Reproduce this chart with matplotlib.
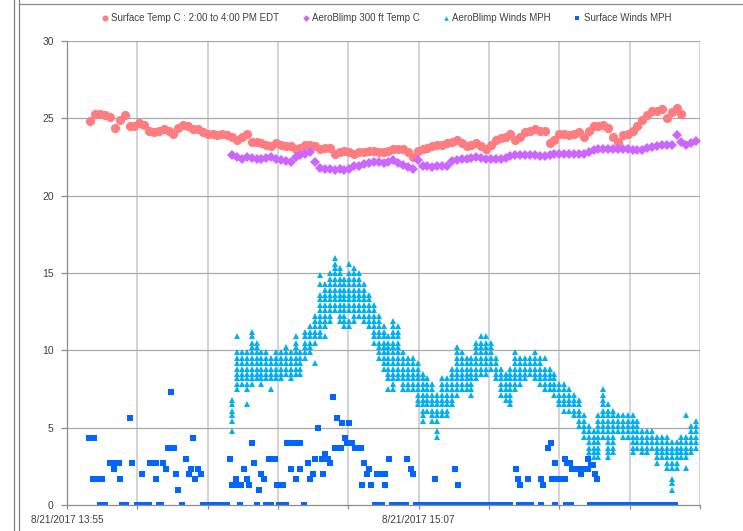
import matplotlib
matplotlib.use("Agg")
import matplotlib.pyplot as plt
from matplotlib.lines import Line2D
import numpy as np

# ---------------- data (time = minutes after 14:00 EDT, 8/21/2017) ----------------
series_labels = ["Surface Temp C : 2:00 to 4:00 PM EDT", "AeroBlimp 300 ft Temp C",
                 "AeroBlimp Winds MPH", "Surface Winds MPH"]

surface_temp_start = 0
surface_temp = [24.8, 25.3, 25.3, 25.2, 25.1, 24.4, 24.9, 25.2, 24.5, 24.5,
                24.7, 24.6, 24.2, 24.1, 24.2, 24.3, 24.2, 24.0, 24.4, 24.6,
                24.5, 24.3, 24.3, 24.1, 24.0, 24.0, 23.9, 24.0, 23.9, 23.8,
                23.6, 23.8, 24.0, 23.5, 23.5, 23.4, 23.3, 23.2, 23.4, 23.3,
                23.2, 23.2, 23.0, 23.1, 23.3, 23.3, 23.2, 23.0, 23.1, 23.1,
                22.7, 22.8, 22.9, 22.8, 22.7, 22.8, 22.85, 22.9, 22.9, 22.8,
                22.8, 22.9, 23.0, 23.0, 23.0, 22.8, 22.5, 22.9, 23.0, 23.1,
                23.2, 23.3, 23.3, 23.4, 23.5, 23.6, 23.4, 23.2, 23.3, 23.4,
                23.2, 23.0, 23.3, 23.6, 23.7, 23.8, 24.0, 23.6, 23.8, 24.1,
                24.2, 24.3, 24.2, 24.2, 23.4, 23.6, 24.0, 24.0, 23.95, 24.0,
                24.1, 23.8, 24.2, 24.5, 24.5, 24.6, 24.4, 23.8, 23.5, 23.9,
                24.0, 24.2, 24.5, 24.9, 25.2, 25.5, 25.5, 25.6, 25.0, 25.4,
                25.7, 25.3]

blimp_temp_start = 29
blimp_temp = [22.6, 22.5, 22.4, 22.5, 22.45, 22.35, 22.4, 22.45, 22.5, 22.35,
              22.3, 22.25, 22.2, 22.5, 22.6, 22.7, 22.8, 22.2, 21.8, 21.7,
              21.7, 21.65, 21.7, 21.65, 21.75, 21.9, 21.95, 22.05, 22.1, 22.2,
              22.15, 22.1, 22.2, 22.3, 22.1, 22.0, 21.85, 21.75, 22.3, 21.9,
              21.9, 21.85, 21.9, 21.9, 21.9, 22.25, 22.3, 22.4, 22.4, 22.45,
              22.5, 22.45, 22.4, 22.4, 22.4, 22.4, 22.45, 22.55, 22.6, 22.6,
              22.6, 22.6, 22.6, 22.55, 22.55, 22.65, 22.7, 22.7, 22.7, 22.7,
              22.7, 22.7, 22.7, 22.8, 22.95, 23.0, 23.0, 23.0, 23.0, 23.0,
              23.0, 23.0, 22.95, 22.95, 22.95, 23.05, 23.15, 23.2, 23.25, 23.3,
              23.3, 23.9, 23.5, 23.3, 23.4, 23.55]

blimp_wind_start = 29
blimp_wind = [
    [4.8, 5.4, 5.8, 6.1, 6.5, 6.8],
    [7.5, 7.8, 8.2, 8.5, 8.8, 9.2, 9.5, 9.9, 10.9],
    [7.8, 8.2, 8.5, 8.8, 9.2, 9.5, 9.9],
    [6.5, 7.5, 7.8, 8.2, 8.5, 8.8, 9.2, 9.5, 9.9],
    [7.8, 8.2, 8.5, 8.8, 9.2, 9.5, 9.9, 10.2, 10.5, 10.9, 11.2],
    [8.2, 8.5, 8.8, 9.2, 9.5, 9.9, 10.2, 10.5],
    [7.8, 8.2, 8.5, 8.8, 9.2, 9.5, 9.9],
    [8.2, 8.5, 8.8, 9.2, 9.5, 9.9],
    [7.5, 8.2, 8.5, 8.8, 9.2, 9.5],
    [8.2, 8.5, 8.8, 9.2, 9.5, 9.9],
    [8.2, 8.5, 8.8, 9.2, 9.5, 9.9],
    [8.5, 8.8, 9.2, 9.5, 9.9, 10.2],
    [8.2, 8.5, 8.8, 9.2, 9.5, 9.9],
    [8.5, 8.8, 9.2, 9.5, 9.9, 10.2, 10.5, 10.9],
    [8.5, 8.8, 9.2, 9.5, 9.9],
    [9.5, 9.9, 10.2, 10.5, 10.9, 11.2],
    [9.9, 10.2, 10.5, 10.9, 11.2, 11.6],
    [9.2, 10.5, 10.9, 11.2, 11.6, 11.9, 12.2],
    [10.9, 11.2, 11.6, 11.9, 12.2, 12.6, 12.9, 13.3, 13.6, 14.3, 14.9],
    [10.9, 11.6, 11.9, 12.2, 12.6, 12.9, 13.3, 13.6, 13.9, 14.3],
    [11.9, 12.2, 12.6, 12.9, 13.3, 13.6, 13.9, 14.3, 14.6, 15.0],
    [12.6, 12.9, 13.3, 13.6, 13.9, 14.3, 14.6, 15.0, 15.3, 15.6, 16.0],
    [11.9, 12.2, 12.6, 12.9, 13.3, 13.6, 13.9, 14.3, 14.6, 15.0, 15.3],
    [11.6, 11.9, 12.2, 12.6, 12.9, 13.3, 13.6, 13.9, 14.3, 14.6],
    [11.6, 11.9, 12.6, 12.9, 13.3, 13.6, 13.9, 14.3, 14.6, 15.0, 15.6],
    [11.9, 12.2, 12.6, 12.9, 13.3, 13.6, 13.9, 14.3, 14.6, 15.0, 15.3],
    [12.2, 12.6, 12.9, 13.3, 13.6, 13.9, 14.3, 14.6, 15.0],
    [11.9, 12.2, 12.6, 12.9, 13.3, 13.6, 13.9, 14.3],
    [11.6, 11.9, 12.2, 12.6, 12.9, 13.3, 13.6],
    [10.5, 10.9, 11.2, 11.6, 11.9, 12.2, 12.6, 12.9],
    [9.5, 9.9, 10.2, 10.5, 10.9, 11.2, 11.6, 11.9, 12.2],
    [8.8, 9.2, 9.5, 9.9, 10.2, 10.5, 10.9, 11.2, 11.6],
    [7.5, 8.2, 8.5, 8.8, 9.2, 9.5, 9.9, 10.2, 10.5, 10.9],
    [7.5, 7.8, 8.2, 8.5, 8.8, 9.2, 9.5, 9.9, 10.2, 10.5, 10.9, 11.2, 11.6, 11.9],
    [8.2, 8.5, 8.8, 9.2, 9.5, 9.9, 10.2, 10.5, 10.9, 11.2, 11.6],
    [7.5, 7.8, 8.2, 8.5, 8.8, 9.2, 9.5, 9.9],
    [7.5, 7.8, 8.2, 8.5, 8.8, 9.2, 9.5],
    [7.5, 7.8, 8.2, 8.5, 8.8, 9.2, 9.5],
    [6.5, 6.8, 7.1, 7.5, 7.8, 8.2, 8.5, 8.8, 9.2],
    [5.4, 5.8, 6.1, 6.5, 6.8, 7.1, 7.5, 7.8, 8.2, 8.5],
    [6.1, 6.5, 6.8, 7.1, 7.5, 7.8, 8.2],
    [5.4, 5.8, 6.1, 6.5, 6.8, 7.1, 7.5, 7.8],
    [4.4, 4.8, 5.4, 5.8, 6.1, 6.5, 6.8, 7.1],
    [5.8, 6.1, 6.5, 6.8, 7.1, 7.5, 7.8, 8.2],
    [5.8, 6.1, 6.5, 6.8, 7.1, 7.5, 7.8, 8.2],
    [6.5, 6.8, 7.1, 7.5, 7.8, 8.2, 8.5, 8.8],
    [7.1, 7.5, 7.8, 8.2, 8.5, 8.8, 9.2, 9.5, 9.9, 10.2],
    [7.5, 7.8, 8.2, 8.5, 8.8, 9.2, 9.5, 9.9],
    [7.5, 7.8, 8.2, 8.5, 8.8, 9.2, 9.5],
    [7.1, 7.5, 7.8, 8.2, 8.5, 8.8, 9.2, 9.5],
    [8.2, 8.5, 8.8, 9.2, 9.5, 9.9, 10.2, 10.5],
    [8.5, 8.8, 9.2, 9.5, 9.9, 10.2, 10.5, 10.9],
    [8.5, 8.8, 9.2, 9.5, 9.9, 10.2, 10.5, 10.9],
    [8.8, 9.2, 9.5, 9.9, 10.2, 10.5],
    [8.2, 8.5, 8.8, 9.2, 9.5],
    [7.1, 7.5, 7.8, 8.2, 8.5, 8.8],
    [6.8, 7.1, 7.5, 7.8, 8.2, 8.5],
    [6.5, 6.8, 7.1, 7.5, 7.8, 8.2, 8.5, 8.8],
    [7.5, 7.8, 8.2, 8.5, 8.8, 9.2, 9.5, 9.9],
    [7.8, 8.2, 8.5, 8.8, 9.2, 9.5],
    [8.2, 8.5, 8.8, 9.2, 9.5],
    [8.5, 8.8, 9.2, 9.5],
    [8.2, 8.5, 8.8, 9.2, 9.5, 9.9],
    [7.8, 8.2, 8.5, 8.8, 9.2, 9.5],
    [7.5, 7.8, 8.2, 8.5, 8.8, 9.5],
    [7.5, 7.8, 8.2, 8.5, 8.8],
    [7.1, 7.5, 7.8, 8.2, 8.5],
    [6.5, 6.8, 7.1, 7.5, 7.8],
    [6.1, 6.5, 6.8, 7.1, 7.5, 7.8],
    [6.1, 6.5, 6.8, 7.1, 7.5],
    [5.8, 6.1, 6.5, 6.8, 7.1],
    [5.1, 5.4, 5.8, 6.1, 6.5, 6.8],
    [4.4, 4.8, 5.1, 5.4, 5.8],
    [3.1, 3.4, 3.7, 4.1, 4.4, 4.8, 5.1],
    [3.1, 3.4, 3.7, 4.1, 4.4, 4.8],
    [3.1, 3.4, 3.7, 4.1, 4.4, 4.8, 5.1, 5.4, 5.8],
    [4.4, 4.8, 5.1, 5.4, 5.8, 6.1, 6.5, 6.8, 7.1, 7.5],
    [3.1, 3.4, 3.7, 4.1, 4.4, 4.8, 5.1, 5.4, 5.8, 6.1, 6.5],
    [3.4, 3.7, 4.1, 4.4, 4.8, 5.1, 5.4, 5.8, 6.1],
    [4.8, 5.1, 5.4, 5.8],
    [4.4, 4.8, 5.1, 5.4, 5.8],
    [4.4, 4.8, 5.1, 5.4, 5.8],
    [3.4, 3.7, 4.1, 4.4, 4.8, 5.1, 5.4, 5.8],
    [3.7, 4.1, 4.4, 4.8, 5.1, 5.4],
    [3.4, 3.7, 4.1, 4.4, 4.8],
    [3.4, 3.7, 4.1, 4.4, 4.8],
    [3.7, 4.1, 4.4, 4.8],
    [2.7, 3.1, 3.4, 3.7, 4.1, 4.4],
    [3.1, 3.4, 3.7, 4.1, 4.4],
    [2.4, 2.7, 3.1, 3.4, 3.7, 4.1, 4.4],
    [1.0, 1.4, 1.7, 2.4, 2.7, 3.1, 3.4, 3.7, 4.1],
    [2.4, 2.7, 3.1, 3.4, 3.7, 4.1],
    [3.1, 3.4, 3.7, 4.1, 4.4],
    [2.4, 3.1, 3.4, 3.7, 4.1, 4.4, 5.8],
    [3.4, 3.7, 4.1, 4.4, 4.8, 5.1],
    [3.7, 4.1, 4.4, 4.8, 5.1, 5.4],
]

surface_wind_t = [-0.2, 0.6, 0.8, 1.5, 2.3, 4.0, 4.9, 5.0, 5.8, 6.0,
                  8.0, 8.5, 10.5, 12.1, 13.5, 13.5, 14.8, 15.5, 15.8, 16.5,
                  17.2, 17.5, 18.0, 19.5, 20.1, 20.5, 21.0, 21.5, 22.0, 22.6,
                  28.5, 28.9, 29.9, 30.2, 30.9, 31.5, 32.0, 32.4, 33.0, 33.5,
                  34.6, 34.9, 35.6, 36.6, 37.8, 38.1, 39.5, 40.2, 41.0, 41.2,
                  42.0, 42.2, 42.9, 43.0, 44.6, 45.0, 45.5, 46.0, 46.6, 47.4,
                  47.6, 48.1, 48.6, 49.0, 49.6, 50.1, 50.5, 51.2, 51.5, 52.1,
                  52.5, 53.0, 53.6, 54.1, 55.3, 55.5, 56.0, 56.7, 57.0, 57.5,
                  58.7, 59.5, 60.4, 60.4, 61.1, 64.9, 65.6, 66.1, 70.6, 74.6,
                  75.2, 87.2, 87.6, 88.0, 89.6, 92.2, 92.7, 93.7, 94.2, 94.4,
                  95.2, 95.4, 96.4, 97.1, 97.1, 97.6, 98.1, 98.6, 99.9, 100.5,
                  100.9, 101.9, 101.9, 102.4, 102.9, 103.4, 103.8]
surface_wind_v = [4.3, 1.7, 4.3, 1.7, 1.7, 2.7, 2.3, 2.7, 2.7, 1.7,
                  5.6, 2.7, 2.0, 2.7, 2.7, 1.7, 2.7, 2.3, 3.7, 7.3,
                  3.7, 2.0, 1.0, 3.0, 2.0, 2.3, 4.3, 1.7, 2.3, 2.0,
                  3.0, 1.3, 1.7, 1.3, 1.3, 2.3, 1.7, 1.3, 4.0, 2.7,
                  1.0, 2.0, 1.7, 3.0, 3.0, 1.3, 1.3, 4.0, 2.3, 4.0,
                  1.7, 4.0, 2.3, 4.0, 2.7, 1.7, 2.0, 3.0, 5.0, 3.0,
                  2.0, 3.3, 3.0, 2.7, 7.0, 3.7, 5.6, 3.7, 5.3, 4.3,
                  4.0, 5.3, 4.0, 3.7, 3.7, 1.3, 2.7, 2.0, 2.3, 1.3,
                  2.0, 2.0, 2.0, 1.3, 3.0, 3.0, 2.3, 2.0, 1.7, 2.3,
                  1.3, 2.3, 1.7, 1.3, 1.7, 1.7, 1.3, 3.7, 4.0, 1.7,
                  2.7, 1.7, 1.7, 1.7, 3.0, 2.7, 2.7, 2.3, 2.3, 2.0,
                  2.3, 2.3, 3.0, 2.6, 2.6, 2.0, 1.7]

# times with calm (0 MPH) surface wind
surface_calm_t = [2.0, 3.0, 6.5, 7.2, 9.5, 10.5, 11.5, 12.0, 14.0, 14.5,
                  18.7, 23.0, 24.0, 25.0, 26.0, 27.0, 28.0, 30.6, 34.2, 36.0,
                  36.9, 38.7, 39.5, 40.0, 43.8, 58.3, 59.3, 59.7, 61.7, 62.7,
                  63.7, 64.7, 66.7, 67.7, 68.7, 69.7, 70.7, 71.7, 72.7, 73.5,
                  74.7, 75.5, 76.5, 77.5, 78.5, 79.5, 80.5, 81.5, 82.5, 83.5,
                  84.5, 85.5, 86.0, 87.7, 88.7, 89.7, 90.3, 92.2, 95.1, 97.4,
                  98.3, 102.3, 103.3, 104.3, 105.3, 106.3, 107.3, 108.3, 109.3, 110.3,
                  111.3, 112.3, 113.3, 114.3, 115.3, 116.3, 117.3, 118.3, 119.3, 119.6]

x_tick_labels = ["8/21/2017 13:55", "", "", "", "", "8/21/2017 15:07", "", "", "", ""]
y_ticks = [0, 5, 10, 15, 20, 25, 30]

# ---------------- styling ----------------
FONT = ["Liberation Sans Narrow", "Liberation Sans", "DejaVu Sans"]
plt.rcParams["font.family"] = FONT

c_red = "#FF7C80"
c_purple = "#CC66FF"
c_cyan = "#00B0F0"
c_blue = "#0066FF"

fig = plt.figure(figsize=(7.43, 5.31), dpi=100)
fig.patch.set_facecolor("white")
W, H = 743, 531
ax = fig.add_axes([67 / W, 1 - 505 / H, (700 - 67) / W, (505 - 41) / H])

# frame lines of the screenshot
fig.add_artist(Line2D([14 / W, 14 / W], [0, 1], color="#7F7F7F", lw=0.9))
fig.add_artist(Line2D([19 / W, 19 / W], [0, 1], color="#7F7F7F", lw=0.9))
fig.add_artist(Line2D([19 / W, 1], [1 - 4 / H, 1 - 4 / H], color="#8C8C8C", lw=0.9))

xmin, step = -4.8, 14.4
xmax = xmin + 9 * step
xt = [xmin + i * step for i in range(10)]

for x in xt[1:]:
    ax.axvline(x, color="#D0D0D0", lw=1.3, zorder=0)
for y in y_ticks[1:]:
    ax.axhline(y, color="#A8A8A8", lw=0.9, zorder=0.5)

st_t = np.arange(len(surface_temp)) + surface_temp_start
ax.plot(st_t, surface_temp, "o", color=c_red, ms=6.6, mew=0, zorder=2,
        label=series_labels[0])
bt_t = np.arange(len(blimp_temp)) + blimp_temp_start
ax.plot(bt_t, blimp_temp, "D", color=c_purple, ms=5.2, mew=0, zorder=2.1,
        label=series_labels[1])

bw_t, bw_v = [], []
for i, vals in enumerate(blimp_wind):
    for v in vals:
        bw_t.append(blimp_wind_start + i)
        bw_v.append(v)
ax.plot(bw_t, bw_v, "^", color=c_cyan, ms=5.0, mew=0, zorder=2.2,
        label=series_labels[2])

sw_t = list(surface_wind_t) + list(surface_calm_t)
sw_v = list(surface_wind_v) + [0.0] * len(surface_calm_t)
ax.plot(sw_t, sw_v, "s", color=c_blue, ms=4.2, mew=0, zorder=2.3,
        label=series_labels[3])

ax.set_xlim(xmin, xmax)
ax.set_ylim(0, 30)
ax.set_xticks(xt)
ax.set_xticklabels(x_tick_labels)
ax.set_yticks(y_ticks)
ax.set_yticklabels([str(v) for v in y_ticks])

for s in ["top", "right"]:
    ax.spines[s].set_visible(False)
for s in ["left", "bottom"]:
    ax.spines[s].set_color("#8C8C8C")
    ax.spines[s].set_linewidth(0.9)
ax.tick_params(axis="y", length=4.5, width=0.9, color="#8C8C8C", pad=5,
               labelsize=7.5, labelcolor="#404040")
ax.tick_params(axis="x", length=3, width=0.9, color="#8C8C8C", pad=4,
               labelsize=7.2, labelcolor="#404040")

leg = ax.legend(loc="lower center", bbox_to_anchor=(0.505, 1.03), ncol=4,
                frameon=False, fontsize=7, handlelength=0.6,
                handletextpad=0.35, columnspacing=2.4, markerscale=0.65,
                borderaxespad=0)
for t in leg.get_texts():
    t.set_color("#404040")

fig.savefig("out.png", dpi=100, facecolor="white")
